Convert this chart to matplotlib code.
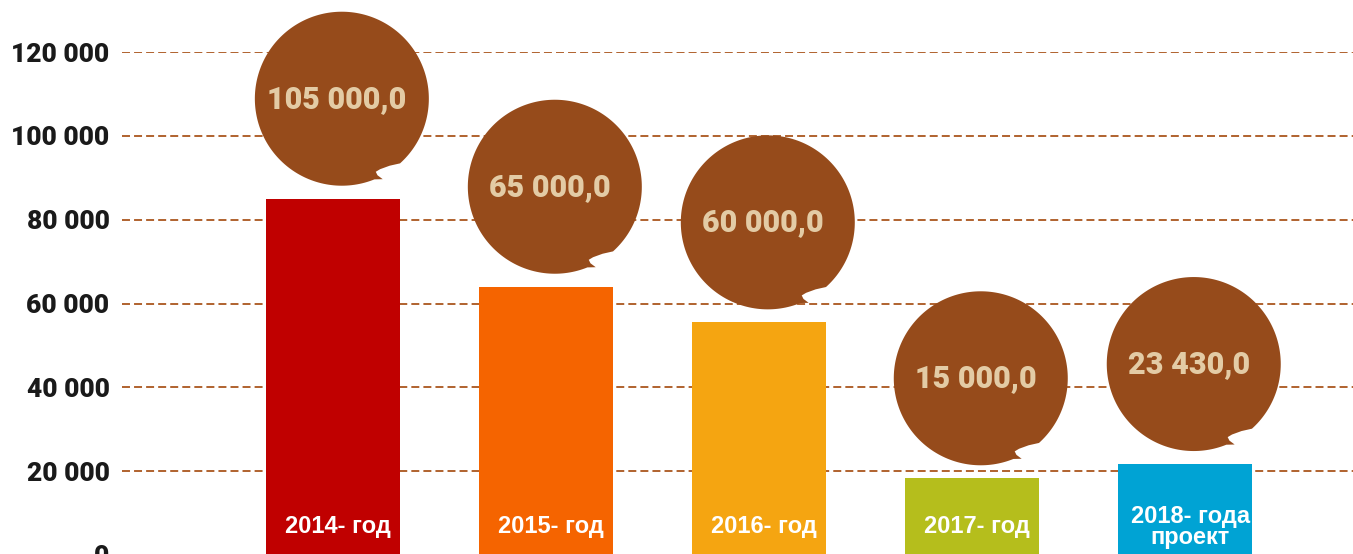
import numpy as np
import matplotlib.pyplot as plt
import matplotlib.transforms as mtransforms
from matplotlib.patches import Polygon

# --- data ---
years = ["2014- год", "2015- год", "2016- год", "2017- год", "2018- года\nпроект"]
bar_values = [85000, 64000, 55500, 18300, 21700]
bubble_labels = ["105 000,0", "65 000,0", "60 000,0", "15 000,0", "23 430,0"]
bar_colors = ["#C00000", "#F56400", "#F5A511", "#B5BE1C", "#00A3D4"]
yticks = [0, 20000, 40000, 60000, 80000, 100000, 120000]
ytick_labels = ["0", "20 000", "40 000", "60 000", "80 000", "100 000", "120 000"]

bubble_color = "#964B1B"
bubble_text_color = "#E3CBA5"
grid_color = "#B0622E"

fig = plt.figure(figsize=(13.53, 5.54), dpi=100)
ax = fig.add_axes([122 / 1353, -1 / 554, 1231 / 1353, 503 / 554])

x = np.arange(len(years))
ax.bar(x, bar_values, width=0.63, color=bar_colors, zorder=2)

# dashed grid
for yv in yticks[1:]:
    ax.axhline(yv, color=grid_color, lw=1.4, ls=(0, (4.1, 2.1)), zorder=1)

ax.set_ylim(0, 120000)
ax.set_xlim(-0.99, 4.79)
ax.set_yticks(yticks)
ax.set_yticklabels(ytick_labels, fontfamily="Roboto", fontweight="heavy",
                   fontsize=19, color="#1a1a1a")
ax.tick_params(axis="y", length=0, pad=9)
ax.set_xticks([])
for s in ax.spines.values():
    s.set_visible(False)

# bubble outline (unit radius) with small tail at bottom right
a1 = np.deg2rad(-48)
a2 = np.deg2rad(-68 + 360)
angs = np.linspace(a1, a2, 200)
pts = list(zip(np.cos(angs), np.sin(angs)))
pts += [(0.47, -0.925), (0.41, -0.88), (0.39, -0.84), (0.44, -0.81), (0.55, -0.77)]
pts = np.array(pts)

r_px = 87
dx_px, dy_px = 9, 100
for i, (v, lab) in enumerate(zip(bar_values, bubble_labels)):
    base = fig.dpi_scale_trans + mtransforms.ScaledTranslation(x[i], v, ax.transData)
    tr = mtransforms.Affine2D().scale(r_px / 100).translate(dx_px / 100, dy_px / 100) + base
    poly = Polygon(pts, closed=True, facecolor=bubble_color, edgecolor="none",
                   transform=tr, zorder=3, clip_on=False)
    ax.add_patch(poly)
    ax.text((dx_px - 5) / 100, dy_px / 100, lab, transform=base, ha="center", va="center",
            fontfamily="Roboto", fontweight="black", fontsize=22,
            color=bubble_text_color, zorder=4)

# year labels inside bars
for i, lab in enumerate(years):
    ax.annotate(lab, xy=(x[i], 6700), xytext=(4, 0), textcoords="offset points",
                ha="center", va="center", multialignment="center",
                fontfamily="Liberation Sans", fontweight="bold", fontsize=17,
                color="white", linespacing=0.9, zorder=3)

fig.savefig("out.png", dpi=100)
